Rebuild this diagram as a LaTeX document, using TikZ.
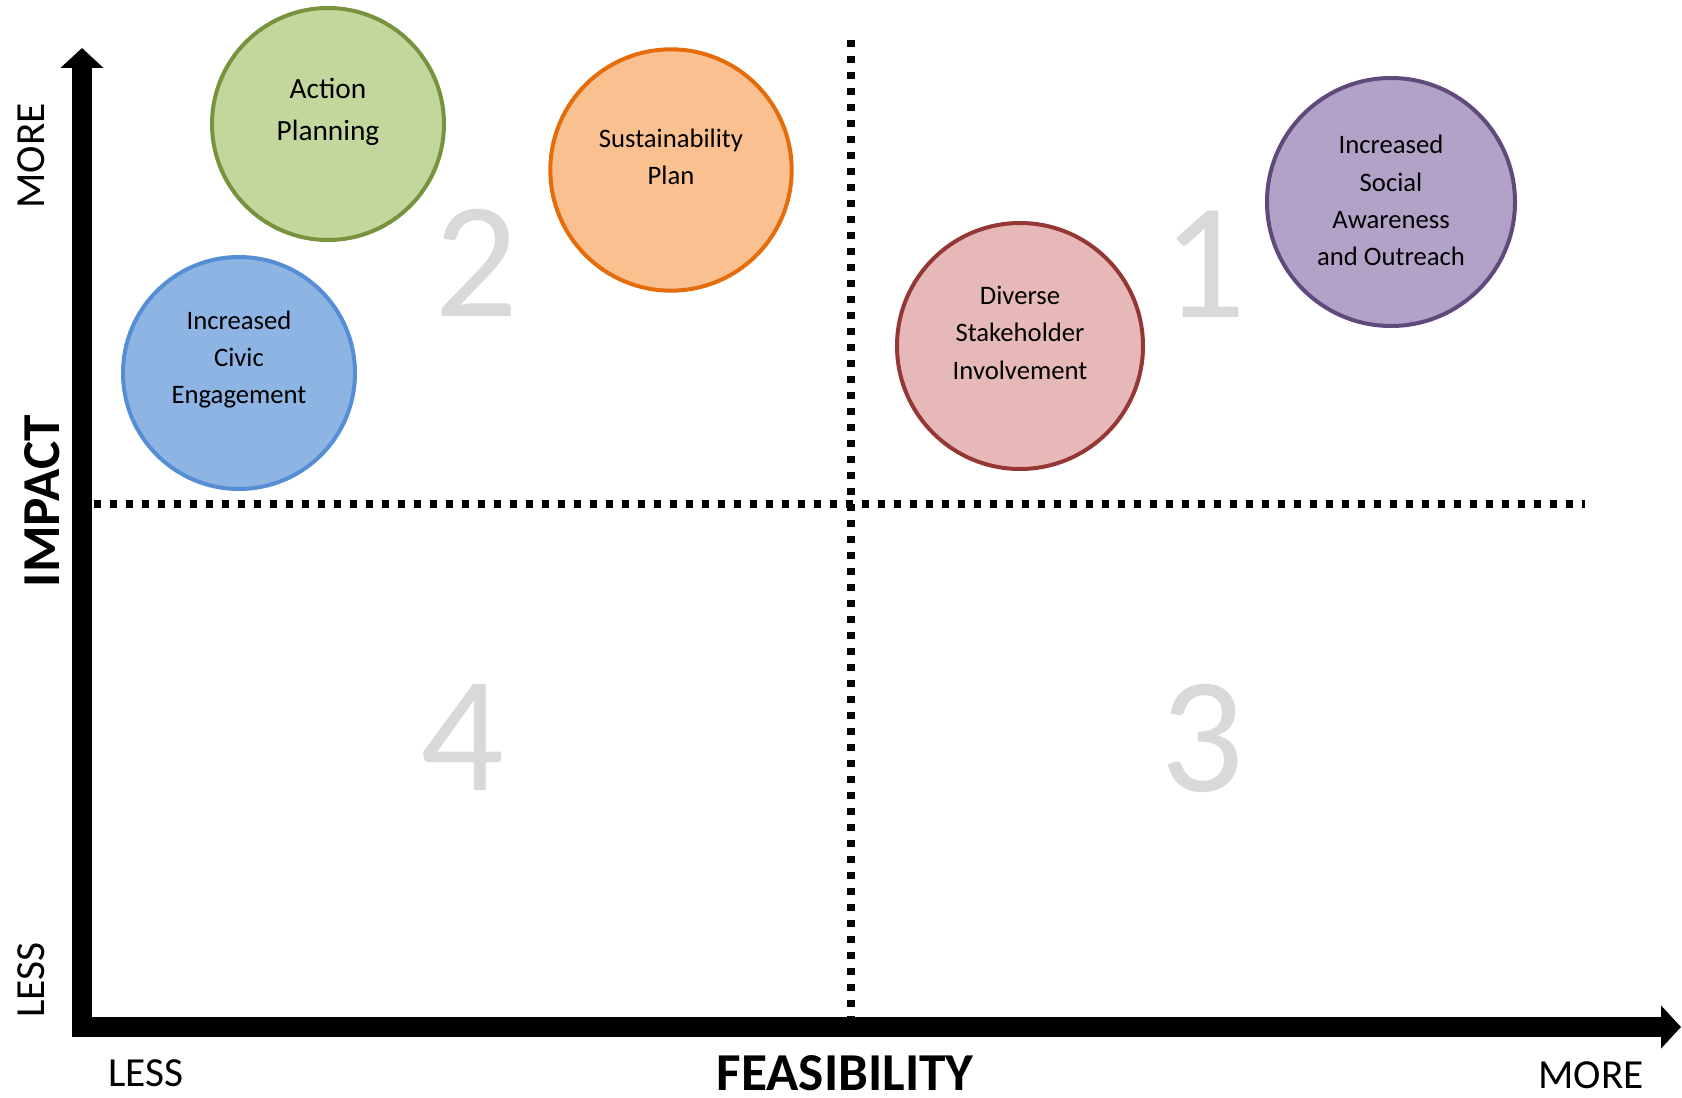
\documentclass[tikz,border=0pt]{standalone}
\usepackage{fontspec}
\setmainfont{Carlito}
\usepackage{xcolor}
\usetikzlibrary{arrows.meta}
\definecolor{actfill}{HTML}{C3D69B}
\definecolor{actline}{HTML}{77933C}
\definecolor{susfill}{HTML}{FAC090}
\definecolor{susline}{HTML}{E46C0A}
\definecolor{civfill}{HTML}{8EB4E3}
\definecolor{civline}{HTML}{558ED5}
\definecolor{divfill}{HTML}{E6B9B8}
\definecolor{divline}{HTML}{953735}
\definecolor{socfill}{HTML}{B3A2C7}
\definecolor{socline}{HTML}{604A7B}
\definecolor{quadgray}{HTML}{D9D9D9}
\tikzset{
    topic/.style={circle, draw, line width=3pt, inner sep=0pt},
    topictext/.style={align=center, inner sep=0pt, font=\fontsize{20}{28}\selectfont},
    axis/.style={{Triangle[width=31.5pt,length=15pt]}-{Triangle[width=31.5pt,length=15pt]}, line width=15pt, line join=miter},
    divider/.style={line width=5.5pt, dash pattern=on 5.5pt off 6.5pt},
    quadnum/.style={text=quadgray, inner sep=0pt, font=\fontsize{124}{124}\selectfont},
    axislabel/.style={inner sep=0pt, font=\fontsize{31}{31}\selectfont},
    axistitle/.style={inner sep=0pt, font=\fontsize{40}{40}\selectfont\bfseries}
}
\begin{document}
\begin{tikzpicture}[x=0.75pt, y=-0.75pt]
    \useasboundingbox (0,0) rectangle (1682,1098);

    % Quadrant numbers
    \node[quadnum] (q1) at (1204,264) {1};
    \node[quadnum] (q2) at (476,263) {2};
    \node[quadnum] (q3) at (1202,738) {3};
    \node[quadnum] (q4) at (462,737) {4};

    % Quadrant dividers
    \coordinate (hleft) at (94,504);
    \coordinate (hright) at (1585,504);
    \coordinate (vtop) at (851,40);
    \coordinate (vbottom) at (851,1017);
    \draw[divider] (hleft) -- (hright);
    \draw[divider] (vtop) -- (vbottom);

    % Axes
    \coordinate (ytop) at (82,48);
    \coordinate (origin) at (82,1027);
    \coordinate (xend) at (1681,1027);
    \draw[axis] (ytop) -- (origin) -- (xend);

    % Axis labels
    \node[axislabel, rotate=90] (ymore) at (31,156) {MORE};
    \node[axislabel, rotate=90] (yless) at (31,980) {LESS};
    \node[axistitle, rotate=90] (impact) at (42,501) {IMPACT};
    \node[axislabel] (xless) at (146,1073) {LESS};
    \node[axistitle] (feasibility) at (845,1073) {FEASIBILITY};
    \node[axislabel] (xmore) at (1591,1075) {MORE};

    % Topics
    \node[topic, fill=actfill, draw=actline, minimum size=174pt] (action) at (328,124) {};
    \node[topictext, font=\fontsize{22}{31.5}\selectfont] (action-text) at ([yshift=9pt]action.center) {Action\\Planning};
    \node[topic, fill=susfill, draw=susline, minimum size=181pt] (sustain) at (671,170) {};
    \node[topictext] (sustain-text) at ([yshift=10pt]sustain.center) {Sustainability\\Plan};
    \node[topic, fill=civfill, draw=civline, minimum size=174pt] (civic) at (239,373) {};
    \node[topictext] (civic-text) at ([yshift=10pt]civic.center) {Increased\\Civic\\Engagement};
    \node[topic, fill=divfill, draw=divline, minimum size=184.5pt] (diverse) at (1020,346) {};
    \node[topictext] (diverse-text) at ([yshift=10pt]diverse.center) {Diverse\\Stakeholder\\Involvement};
    \node[topic, fill=socfill, draw=socline, minimum size=186pt] (social) at (1391,202) {};
    \node[topictext] (social-text) at ([yshift=1pt]social.center) {Increased\\Social\\Awareness\\and Outreach};
\end{tikzpicture}
\end{document}
